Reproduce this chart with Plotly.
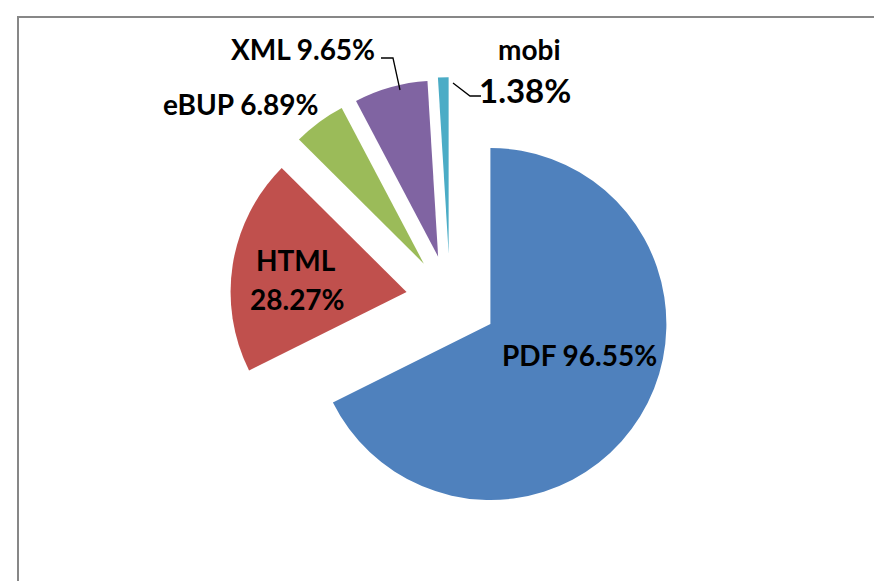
import plotly.graph_objects as go

labels = ["PDF", "HTML", "eBUP", "XML", "mobi"]
values = [96.55, 28.27, 6.89, 9.65, 1.38]
colors = ["#4F81BD", "#C0504D", "#9BBB59", "#8064A2", "#4BACC6"]
pulls = [0.27, 0.25, 0.25, 0.25, 0.26]

W, H = 882, 581
FONT = "Lato"

CX, CY, HALF = 442, 290, 223.5
fig = go.Figure(go.Pie(
    labels=labels, values=values, sort=False, direction="clockwise", rotation=0,
    marker=dict(colors=colors, line=dict(width=0)),
    pull=pulls, textinfo="none", hoverinfo="label+value", showlegend=False,
    domain=dict(x=[(CX - HALF) / W, (CX + HALF) / W],
                y=[(CY - HALF) / H, (CY + HALF) / H]),
))

def px(x):
    return x / W

def py(y):
    return 1 - y / H

def ann(text, x, y, size=28):
    fig.add_annotation(text=text, x=px(x), y=py(y), xref="paper", yref="paper",
                       xanchor="center", yanchor="middle", showarrow=False,
                       font=dict(family=FONT, size=size, color="black", weight="bold"))

ann(f"{labels[0]} {values[0]:.2f}%", 571.5, 347)
ann(labels[1], 288, 252)
ann(f"{values[1]:.2f}%", 289, 291)
ann(f"{labels[2]} {values[2]:.2f}%", 233.5, 96)
ann(f"{labels[3]} {values[3]:.2f}%", 294.5, 41)
ann(labels[4], 521, 41)
ann(f"{values[4]:.2f}%", 517, 82, size=33)

# leader lines
fig.add_shape(type="path", xref="paper", yref="paper",
              path=f"M {px(373)} {py(50)} L {px(385)} {py(50)} L {px(392)} {py(82)}",
              line=dict(color="black", width=1.3))
fig.add_shape(type="path", xref="paper", yref="paper",
              path=f"M {px(445)} {py(75)} L {px(462)} {py(88)} L {px(473)} {py(88)}",
              line=dict(color="black", width=1.3))

# chart border
fig.add_shape(type="rect", xref="paper", yref="paper",
              x0=px(10), y0=-0.05, x1=1.05, y1=py(9),
              line=dict(color="#878787", width=2))

fig.update_layout(width=W, height=H, margin=dict(l=0, r=0, t=0, b=0),
                  paper_bgcolor="white", plot_bgcolor="white")

fig.write_html("out.html")
